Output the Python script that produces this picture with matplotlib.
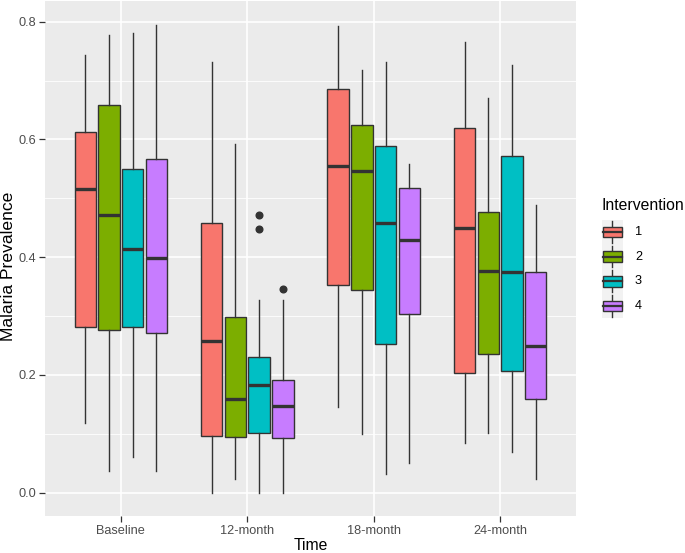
import matplotlib
matplotlib.use("Agg")
import matplotlib.pyplot as plt
from matplotlib.patches import Rectangle
from matplotlib.ticker import MultipleLocator, FixedLocator

plt.rcParams['font.family'] = ['Liberation Sans', 'DejaVu Sans']

# ---------------- data ----------------
times = ["Baseline", "12-month", "18-month", "24-month"]
interventions = ["1", "2", "3", "4"]
colors = ["#F8766D", "#7CAE00", "#00BFC4", "#C77CFF"]

# rows: intervention 1..4 ; columns: Baseline, 12m, 18m, 24m
lower_whisker = [
    [0.119, 0.000, 0.146, 0.084],
    [0.037, 0.023, 0.099, 0.101],
    [0.061, 0.000, 0.031, 0.069],
    [0.037, 0.000, 0.051, 0.024],
]
q1 = [
    [0.282, 0.096, 0.353, 0.204],
    [0.276, 0.095, 0.344, 0.235],
    [0.282, 0.101, 0.253, 0.207],
    [0.271, 0.093, 0.303, 0.160],
]
median = [
    [0.516, 0.258, 0.555, 0.450],
    [0.472, 0.160, 0.547, 0.377],
    [0.414, 0.183, 0.458, 0.375],
    [0.399, 0.148, 0.429, 0.250],
]
q3 = [
    [0.613, 0.458, 0.685, 0.619],
    [0.658, 0.299, 0.625, 0.476],
    [0.550, 0.230, 0.588, 0.572],
    [0.567, 0.191, 0.517, 0.374],
]
upper_whisker = [
    [0.744, 0.732, 0.792, 0.766],
    [0.778, 0.593, 0.717, 0.671],
    [0.781, 0.327, 0.731, 0.726],
    [0.795, 0.327, 0.559, 0.488],
]
outliers = [
    [[], [], [], []],
    [[], [], [], []],
    [[], [0.471, 0.447], [], []],
    [[], [0.346], [], []],
]
y_ticks = [0.0, 0.2, 0.4, 0.6, 0.8]

# ---------------- figure ----------------
W, H = 685, 553
fig = plt.figure(figsize=(W / 100, H / 100), dpi=100)
fig.patch.set_facecolor("white")

left, right, top, bottom = 45, 576, 1, 515.7
ax = fig.add_axes([left / W, (H - bottom) / H, (right - left) / W, (bottom - top) / H])
ax.set_facecolor("#EBEBEB")
for s in ax.spines.values():
    s.set_visible(False)

dodge = 0.75 / len(interventions)
edge = "#333333"
for k in range(len(interventions)):
    stats = []
    positions = []
    for t in range(len(times)):
        stats.append(dict(whislo=lower_whisker[k][t], q1=q1[k][t], med=median[k][t],
                          q3=q3[k][t], whishi=upper_whisker[k][t], fliers=outliers[k][t]))
        positions.append(t + 1 + (k - 1.5) * dodge)
    ax.bxp(stats, positions=positions, widths=dodge * 0.9, patch_artist=True,
           showcaps=False, manage_ticks=False,
           boxprops=dict(facecolor=colors[k], edgecolor=edge, linewidth=1.0),
           medianprops=dict(color=edge, linewidth=2.4, solid_capstyle="butt"),
           whiskerprops=dict(color=edge, linewidth=1.0),
           flierprops=dict(marker="o", markerfacecolor=edge, markeredgecolor=edge,
                           markersize=4.8, linestyle="none"),
           zorder=3)

ax.set_xlim(0.4, 4.6)
ax.set_ylim(-0.039, 0.835)
ax.set_xticks(range(1, len(times) + 1))
ax.set_xticklabels(times)
ax.set_yticks(y_ticks)
ax.set_yticklabels([f"{v:.1f}" for v in y_ticks])
ax.yaxis.set_minor_locator(FixedLocator([0.1, 0.3, 0.5, 0.7]))
ax.grid(which="major", color="white", linewidth=1.2, zorder=0)
ax.grid(which="minor", axis="y", color="white", linewidth=0.6, zorder=0)
ax.set_axisbelow(True)
ax.tick_params(which="major", length=4, width=0.9, color=edge, labelcolor="#4D4D4D",
               labelsize=9.2, pad=2.5)
ax.tick_params(which="minor", length=0)

# overlay axes in pixel coordinates for titles and legend
lax = fig.add_axes([0, 0, 1, 1])
lax.set_xlim(0, W)
lax.set_ylim(H, 0)
lax.axis("off")

lax.text((left + right) / 2, 545, "Time", ha="center", va="center", fontsize=11.3, color="black")
lax.text(9, 266, "Malaria Prevalence", ha="center", va="center", rotation=90,
         fontsize=12.6, color="black")

# legend
lax.text(601.5, 206, "Intervention", ha="left", va="center", fontsize=11.3, color="black")
key_x0, key_w = 601.7, 21.6
key_top, key_h = 219.5, 24.7
for k, lab in enumerate(interventions):
    y0 = key_top + k * key_h
    lax.add_patch(Rectangle((key_x0, y0), key_w, key_h, facecolor="#F2F2F2",
                            edgecolor="none", zorder=1))
    cx = key_x0 + key_w / 2
    cy = y0 + key_h / 2
    lax.plot([cx, cx], [y0 + 1.5, y0 + key_h - 1.5], color=edge, lw=1.0, zorder=2)
    bh = 10.6
    lax.add_patch(Rectangle((key_x0 + 1.7, cy - bh / 2), key_w - 3.4, bh,
                            facecolor=colors[k], edgecolor=edge, lw=1.0, zorder=3))
    lax.plot([key_x0 + 1.7, key_x0 + key_w - 1.7], [cy, cy], color=edge, lw=1.6, zorder=4)
    lax.text(635, cy, lab, ha="left", va="center", fontsize=9.2, color="black")

fig.savefig("out.png", dpi=100)
